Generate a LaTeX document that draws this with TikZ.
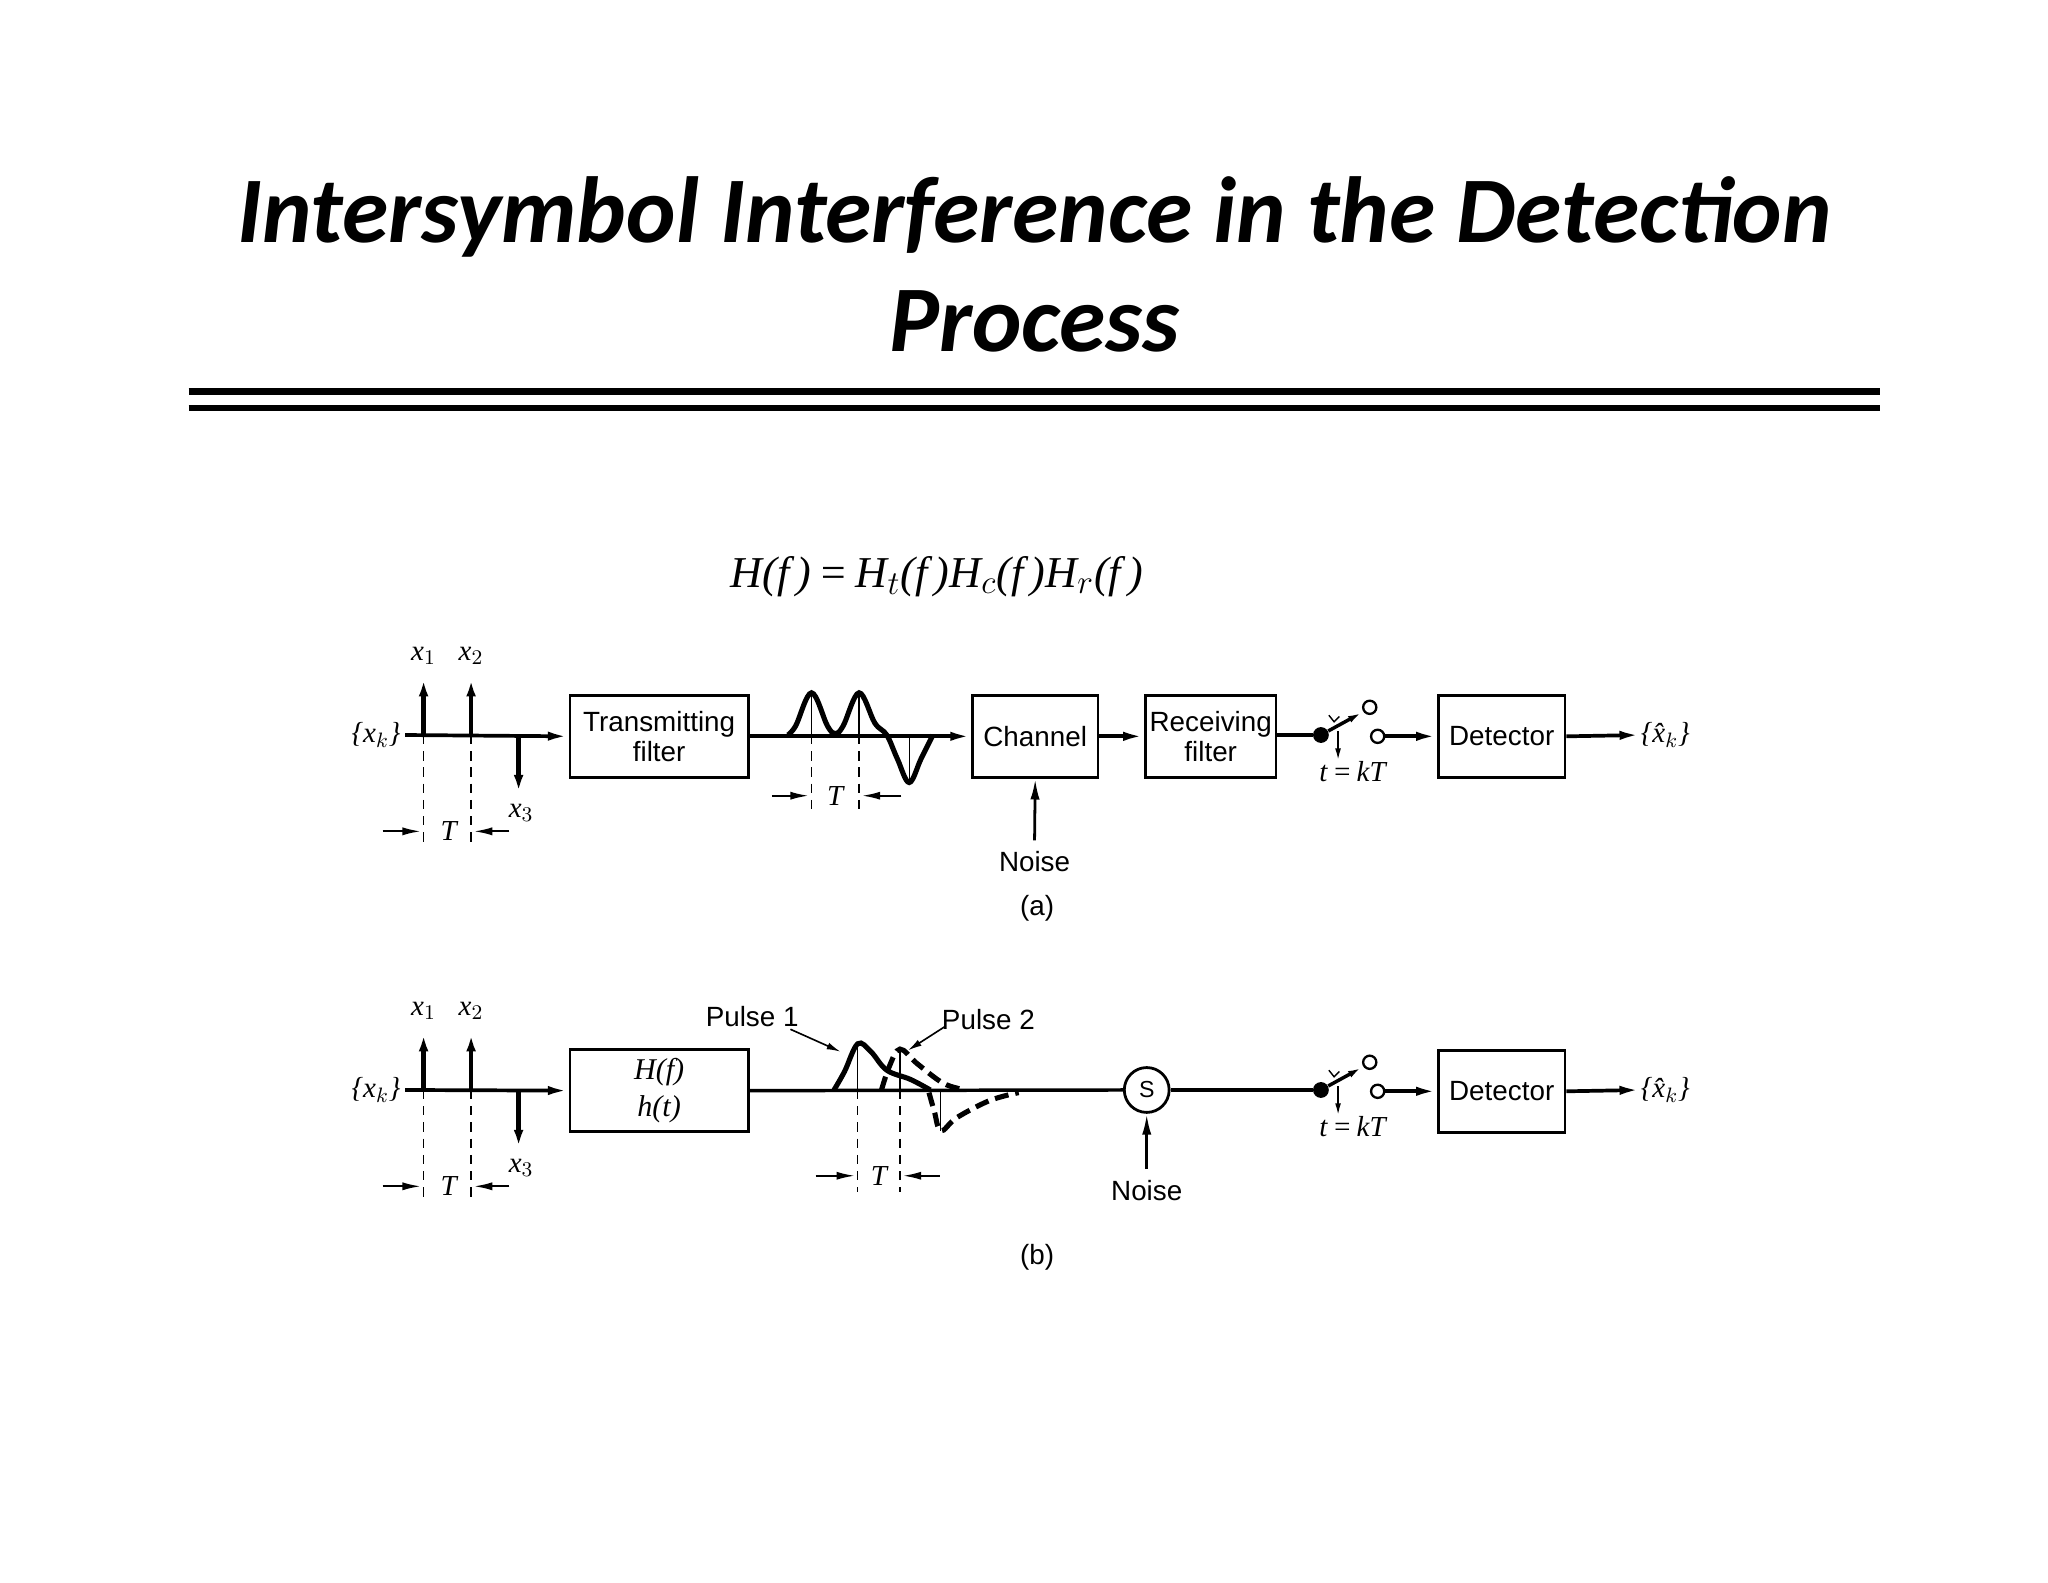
\documentclass[tikz,border=0pt]{standalone}
\usepackage{fontspec}
\setmainfont{Liberation Sans}
\newfontfamily\ttl{Carlito}
\newfontfamily\ser{Liberation Serif}
\usetikzlibrary{arrows.meta}
\begin{document}
\begin{tikzpicture}[x=0.02cm,y=-0.02cm,
  blk/.style={draw,line width=1.2pt,minimum width=135*0.02cm,minimum height=62*0.02cm,align=center,font=\fontsize{12}{13}\selectfont,inner sep=0pt},
  ln/.style={line width=1.5pt},
  ar/.style={line width=1.6pt,-{Latex[length=9pt,width=4pt]}},
  dim/.style={line width=0.9pt,-{Latex[length=8pt,width=3.5pt]}},
  dsh/.style={dash pattern=on 4pt off 3pt,line width=0.6pt},
  ml/.style={font=\ser\itshape\fontsize{12.5}{13}\selectfont,inner sep=0pt},
  tl/.style={font=\fontsize{12}{13}\selectfont,inner sep=0pt}]
\useasboundingbox (0,0) rectangle (1552,1199);
\fill[white] (0,0) rectangle (1552,1199);
\node[font=\ttl\bfseries\itshape\fontsize{40.5}{47}\selectfont,align=center] (title) at (784,200) {Intersymbol Interference in the Detection\\Process};
\draw[line width=3pt] (143,297) -- (1425,297);
\draw[line width=2.5pt] (143,309) -- (1425,309);
\node[font=\ser\itshape\fontsize{19}{20}\selectfont] (eq) at (710,437) {H(f\,)\,=\,H$_t$(f\,)H$_c$(f\,)H$_r$(f\,)};
% ---------- impulses
\foreach \yy/\lab in {557/a,826/b}{
  \coordinate (s\lab) at (307,\yy);
  \node[ml] at (285,\yy) {\{x$_k$\}};
  \draw[ar,line width=2pt] (321,\yy) -- (321,\yy-45);
  \draw[ar,line width=2pt] (357,\yy) -- (357,\yy-45);
  \draw[ar,line width=2pt] (393,\yy) -- (393,\yy+46);
  \node[ml] at (321,\yy-60) {x$_1$};
  \node[ml] at (357,\yy-60) {x$_2$};
  \node[ml] at (395,\yy+59) {x$_3$};
  \draw[dsh] (321,\yy) -- (321,\yy+86);
  \draw[dsh] (357,\yy) -- (357,\yy+86);
  \draw[dim] (290,\yy+73) -- (319,\yy+73);
  \draw[dim] (386,\yy+73) -- (359,\yy+73);
  \node[ml] at (340,\yy+73) {T};
}
% ---------- (a)
\node[blk] (tx) at (499.5,558) {Transmitting\\filter};
\draw[ar] (sa) -- (tx.west);
\node[blk,minimum width=95*0.02cm] (ch) at (784.5,558) {Channel};
\node[blk,minimum width=99*0.02cm] (rx) at (917.5,558) {Receiving\\filter};
\node[blk,minimum width=96*0.02cm] (det) at (1138,558) {Detector};
\draw[ar] (tx.east) -- (ch.west);
\draw[line width=2.2pt] plot[smooth,tension=0.6] coordinates {(597,557) (603,550) (615,525) (627,550) (633,556) (639,550) (651,525) (663,548) (672,557) (680,575) (689,593) (698,575) (707,557)};
\draw[line width=0.5pt] (615,525) -- (615,557) (651,525) -- (651,557) (689,593) -- (689,557);
\draw[dsh] (615,557) -- (615,615) (651,557) -- (651,615);
\draw[dim] (585,603) -- (613,603);
\draw[dim] (683,603) -- (653,603);
\node[ml] at (633,603) {T};
\node[tl] (na) at (784,653) {Noise};
\draw[ar,line width=1.2pt] (na.north) ++(0,-8) -- (ch.south);
\node[tl] at (786,688) {(a)};
\draw[ar] (ch.east) -- (rx.west);
\node[ml] (xha) at (1262,557) {\{\^x$_k$\}};
\draw[ar] (det.east) -- (xha.west);
% ---------- (b) blocks
\node[blk,minimum width=96*0.02cm] (det2) at (1138,827) {Detector};
\node[ml] (xhb) at (1262,826) {\{\^x$_k$\}};
\draw[ar] (det2.east) -- (xhb.west);
\node[draw,circle,line width=1.2pt,minimum size=34*0.02cm,inner sep=0pt,font=\fontsize{10}{10}\selectfont] (sm) at (869,826) {S};
\node[tl] (nb) at (869,902) {Noise};
\draw[ar,line width=1.2pt] (nb.north) ++(0,-8) -- (sm.south);
\node[tl] at (786,953) {(b)};
% ---------- samplers
\foreach \yy/\src/\dd in {557/rx/det,826/sm/det2}{
  \node[circle,fill,minimum size=12*0.02cm,inner sep=0pt] (d\yy) at (1001,\yy) {};
  \draw[ln] (\src.east|-d\yy) -- (d\yy);
  \draw[line width=1.5pt,-{Latex[length=6pt,width=3pt]}] (d\yy) -- (1032,\yy-17);
  \node[draw,circle,line width=1pt,minimum size=10*0.02cm,inner sep=0pt] (c1\yy) at (1038,\yy-21) {};
  \node[draw,circle,line width=1pt,minimum size=10*0.02cm,inner sep=0pt] (c2\yy) at (1044,\yy+1) {};
  \draw[ar] (c2\yy) -- (\dd.west|-c2\yy);
  \draw[line width=0.7pt,-{Latex[length=5pt,width=2.5pt]}] (1014,\yy-3) -- (1014,\yy+19);
  \draw[line width=0.6pt] (1007,\yy-15) -- (1011,\yy-10) -- (1015,\yy-14);
  \node[ml] at (1025,\yy+28) {t\,=\,kT};
}
% ---------- (b)
\node[blk,font=\ser\itshape\fontsize{13}{16}\selectfont] (hf) at (499.5,826.5) {H(f)\\h(t)};
\draw[ar] (sb) -- (hf.west);
\draw[ln] (hf.east) -- (sm.west);
\draw[ln] (sm.east) -- (d826);
\draw[line width=2.2pt] plot[smooth,tension=0.6] coordinates {(632,826) (640,812) (650,791) (660,797) (672,811) (690,818) (705,826)};
\draw[line width=2.2pt,dash pattern=on 6pt off 3pt] plot[smooth,tension=0.6] coordinates {(668,826) (674,808) (682,795) (695,806) (715,821) (732,826)};
\draw[line width=2.2pt,dash pattern=on 6pt off 3pt] plot[smooth,tension=0.6] coordinates {(704,828) (708,842) (713,857) (725,847) (750,834) (772,828)};
\draw[line width=0.5pt] (650,791) -- (650,826) (682,795) -- (682,826) (713,857) -- (713,826);
\draw[dsh] (650,826) -- (650,903) (682,826) -- (682,903);
\draw[dim] (618,891) -- (648,891);
\draw[dim] (712,891) -- (684,891);
\node[ml] at (666,891) {T};
\node[tl] (p1) at (570,770) {Pulse 1};
\node[tl] (p2) at (749,773) {Pulse 2};
\draw[line width=0.7pt,-{Latex[length=6pt,width=3pt]}] (599,780) -- (637,797);
\draw[line width=0.7pt,-{Latex[length=6pt,width=3pt]}] (716,778) -- (688,796);
\end{tikzpicture}
\end{document}
